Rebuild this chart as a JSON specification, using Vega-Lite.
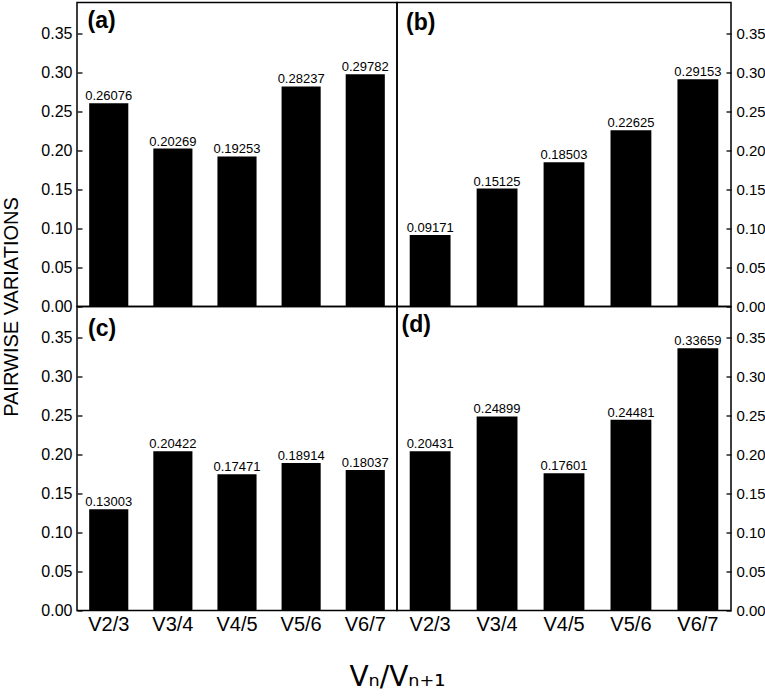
{
  "$schema": "https://vega.github.io/schema/vega-lite/v6.json",
  "padding": {"left": 0, "top": 1.5, "right": 0, "bottom": 0},
  "background": "white",
  "config": {
    "view": {"stroke": "black", "strokeWidth": 1.5},
    "font": "Liberation Sans",
    "axis": {"grid": false, "domain": false, "labelColor": "black", "titleColor": "black", "labelFont": "Liberation Sans"},
    "title": {"color": "black"}
  },
  "data": {
    "values": [
      {"panel": "a", "pair": "V2/3", "v": 0.26076},
      {"panel": "a", "pair": "V3/4", "v": 0.20269},
      {"panel": "a", "pair": "V4/5", "v": 0.19253},
      {"panel": "a", "pair": "V5/6", "v": 0.28237},
      {"panel": "a", "pair": "V6/7", "v": 0.29782},
      {"panel": "b", "pair": "V2/3", "v": 0.09171},
      {"panel": "b", "pair": "V3/4", "v": 0.15125},
      {"panel": "b", "pair": "V4/5", "v": 0.18503},
      {"panel": "b", "pair": "V5/6", "v": 0.22625},
      {"panel": "b", "pair": "V6/7", "v": 0.29153},
      {"panel": "c", "pair": "V2/3", "v": 0.13003},
      {"panel": "c", "pair": "V3/4", "v": 0.20422},
      {"panel": "c", "pair": "V4/5", "v": 0.17471},
      {"panel": "c", "pair": "V5/6", "v": 0.18914},
      {"panel": "c", "pair": "V6/7", "v": 0.18037},
      {"panel": "d", "pair": "V2/3", "v": 0.20431},
      {"panel": "d", "pair": "V3/4", "v": 0.24899},
      {"panel": "d", "pair": "V4/5", "v": 0.17601},
      {"panel": "d", "pair": "V5/6", "v": 0.24481},
      {"panel": "d", "pair": "V6/7", "v": 0.33659}
    ]
  },
  "columns": 2,
  "spacing": 0,
  "bounds": "flush",
  "align": "each",
  "resolve": {"scale": {"x": "independent", "y": "independent"}},
  "concat": [
    {
      "width": 320, "height": 304,
      "title": {"text": "(a)", "anchor": "start", "frame": "group", "offset": -30, "dx": 10.5, "fontSize": 23, "fontWeight": "bold", "font": "Liberation Sans"},
      "transform": [{"filter": "datum.panel === 'a'"}],
      "encoding": {
        "x": {"field": "pair", "type": "nominal", "sort": null, "scale": {"paddingInner": 0.39, "paddingOuter": 0.19}, "axis": null},
        "y": {"field": "v", "type": "quantitative", "scale": {"domain": [0, 0.39], "nice": false, "zero": true},
          "axis": {"orient": "left", "values": [0, 0.05, 0.1, 0.15, 0.2, 0.25, 0.3, 0.35], "format": ".2f", "tickSize": -5, "tickColor": "black", "tickWidth": 1.3, "labelPadding": 10, "labelFontSize": 16, "labelFlush": false,
            "title": "PAIRWISE VARIATIONS", "titleFontSize": 20, "titleFontWeight": "normal", "titleFont": "Liberation Sans", "titleX": -66, "titleY": 304, "titleAngle": -90, "titleAlign": "center", "titleBaseline": "middle"}}
      },
      "layer": [
        {"mark": {"type": "bar", "color": "black"}},
        {"mark": {"type": "text", "baseline": "alphabetic", "dy": -3, "fontSize": 13, "color": "black", "font": "Liberation Sans"},
         "encoding": {"text": {"field": "v", "type": "quantitative", "format": ".5f"}}}
      ]
    },
    {
      "width": 334, "height": 304,
      "title": {"text": "(b)", "anchor": "start", "frame": "group", "offset": -32.5, "dx": 9, "fontSize": 23, "fontWeight": "bold", "font": "Liberation Sans"},
      "transform": [{"filter": "datum.panel === 'b'"}],
      "encoding": {
        "x": {"field": "pair", "type": "nominal", "sort": null, "scale": {"paddingInner": 0.39, "paddingOuter": 0.19}, "axis": null},
        "y": {"field": "v", "type": "quantitative", "scale": {"domain": [0, 0.39], "nice": false, "zero": true},
          "axis": {"orient": "right", "values": [0, 0.05, 0.1, 0.15, 0.2, 0.25, 0.3, 0.35], "format": ".2f", "tickSize": -5, "tickColor": "black", "tickWidth": 1.3, "labelPadding": 10, "labelFontSize": 15, "labelFlush": false, "title": null}}
      },
      "layer": [
        {"mark": {"type": "bar", "color": "black"}},
        {"mark": {"type": "text", "baseline": "alphabetic", "dy": -3, "fontSize": 13, "color": "black", "font": "Liberation Sans"},
         "encoding": {"text": {"field": "v", "type": "quantitative", "format": ".5f"}}}
      ]
    },
    {
      "width": 320, "height": 304,
      "title": {"text": "(c)", "anchor": "start", "frame": "group", "offset": -34, "dx": 11, "fontSize": 23, "fontWeight": "bold", "font": "Liberation Sans"},
      "transform": [{"filter": "datum.panel === 'c'"}],
      "encoding": {
        "x": {"field": "pair", "type": "nominal", "sort": null, "scale": {"paddingInner": 0.39, "paddingOuter": 0.19},
          "axis": {"orient": "bottom", "ticks": false, "labelAngle": 0, "labelFontSize": 20, "labelPadding": 4,
            "title": "Vₙ/Vₙ₊₁", "titleFont": "DejaVu Sans", "titleFontSize": 28, "titleFontWeight": "normal", "titleX": 320, "titleY": 75, "titleAlign": "center", "titleBaseline": "alphabetic"}},
        "y": {"field": "v", "type": "quantitative", "scale": {"domain": [0, 0.39], "nice": false, "zero": true},
          "axis": {"orient": "left", "values": [0, 0.05, 0.1, 0.15, 0.2, 0.25, 0.3, 0.35], "format": ".2f", "tickSize": -5, "tickColor": "black", "tickWidth": 1.3, "labelPadding": 10, "labelFontSize": 16, "labelFlush": false, "title": null}}
      },
      "layer": [
        {"mark": {"type": "bar", "color": "black"}},
        {"mark": {"type": "text", "baseline": "alphabetic", "dy": -3, "fontSize": 13, "color": "black", "font": "Liberation Sans"},
         "encoding": {"text": {"field": "v", "type": "quantitative", "format": ".5f"}}}
      ]
    },
    {
      "width": 334, "height": 304,
      "title": {"text": "(d)", "anchor": "start", "frame": "group", "offset": -30.5, "dx": 4.5, "fontSize": 23, "fontWeight": "bold", "font": "Liberation Sans"},
      "transform": [{"filter": "datum.panel === 'd'"}],
      "encoding": {
        "x": {"field": "pair", "type": "nominal", "sort": null, "scale": {"paddingInner": 0.39, "paddingOuter": 0.19},
          "axis": {"orient": "bottom", "ticks": false, "labelAngle": 0, "labelFontSize": 20, "labelPadding": 4, "title": null}},
        "y": {"field": "v", "type": "quantitative", "scale": {"domain": [0, 0.39], "nice": false, "zero": true},
          "axis": {"orient": "right", "values": [0, 0.05, 0.1, 0.15, 0.2, 0.25, 0.3, 0.35], "format": ".2f", "tickSize": -5, "tickColor": "black", "tickWidth": 1.3, "labelPadding": 10, "labelFontSize": 15, "labelFlush": false, "title": null}}
      },
      "layer": [
        {"mark": {"type": "bar", "color": "black"}},
        {"mark": {"type": "text", "baseline": "alphabetic", "dy": -3, "fontSize": 13, "color": "black", "font": "Liberation Sans"},
         "encoding": {"text": {"field": "v", "type": "quantitative", "format": ".5f"}}}
      ]
    }
  ]
}
